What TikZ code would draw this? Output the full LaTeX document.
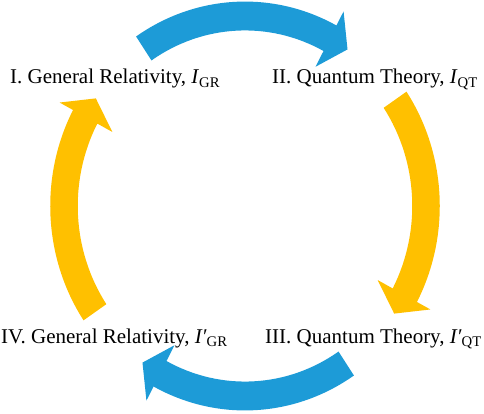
\documentclass[tikz,border=0pt]{standalone}
\usepackage{fontspec}
\setmainfont{Liberation Serif}
\definecolor{arcblue}{RGB}{29,155,215}
\definecolor{arcgold}{RGB}{255,192,0}
\tikzset{
  stage/.style={anchor=base west, inner sep=0pt, font=\fontsize{21}{25}\selectfont}
}
\begin{document}
\begin{tikzpicture}[x=1pt, y=1pt]
        \useasboundingbox (0,0) rectangle (484,413);
        \coordinate (mid) at (245,207);
        % Cycle arrows (on an ellipse round mid)
        \begin{scope}[shift={(mid)}, xscale=181, yscale=190]
        % I -> II (top)
        \fill[arcblue] (124:1.076) arc[start angle=124, end angle=62, radius=1.076] -- (62:1.16) -- (55.5:1.0) -- (62:0.83) -- (62:0.924) arc[start angle=62, end angle=124, radius=0.924] -- cycle;
        % II -> III (right)
        \fill[arcgold] (34:1.076) arc[start angle=34, end angle=-28, radius=1.076] -- (-28:1.16) -- (-34.5:1.0) -- (-28:0.83) -- (-28:0.924) arc[start angle=-28, end angle=34, radius=0.924] -- cycle;
        % III -> IV (bottom)
        \fill[arcblue] (-56:1.076) arc[start angle=-56, end angle=-118, radius=1.076] -- (-118:1.16) -- (-124.5:1.0) -- (-118:0.83) -- (-118:0.924) arc[start angle=-118, end angle=-56, radius=0.924] -- cycle;
        % IV -> I (left)
        \fill[arcgold] (214:1.076) arc[start angle=214, end angle=152, radius=1.076] -- (152:1.16) -- (145.5:1.0) -- (152:0.83) -- (152:0.924) arc[start angle=152, end angle=214, radius=0.924] -- cycle;
        \end{scope}
        % Labels
        \node[stage] (gr1) at (10,329) {I. General Relativity, \textit{I}\textsubscript{GR}};
        \node[stage] (qt2) at (272,329) {II. Quantum Theory, \textit{I}\textsubscript{QT}};
        \node[stage] (qt3) at (265,70) {III. Quantum Theory, \textit{I′}\textsubscript{QT}};
        \node[stage] (gr4) at (1,70) {IV. General Relativity, \textit{I′}\textsubscript{GR}};
\end{tikzpicture}
\end{document}
